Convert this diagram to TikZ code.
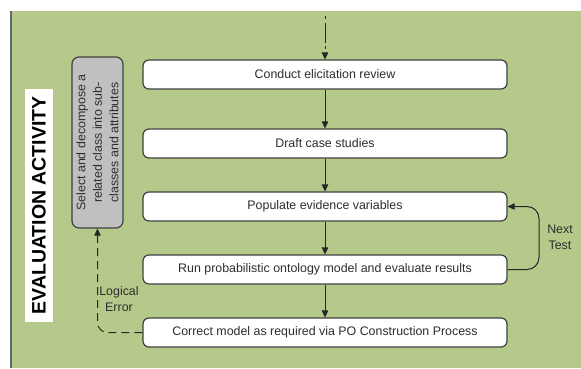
\documentclass[tikz,border=0pt]{standalone}
\usepackage{fontspec}
\setmainfont{Liberation Sans}
\usetikzlibrary{arrows.meta}
\definecolor{bggreen}{RGB}{181,202,138}
\definecolor{edgegray}{RGB}{64,64,64}
\definecolor{txtgray}{RGB}{45,45,45}
\definecolor{boxgray}{RGB}{192,192,192}
\tikzset{
  stepbox/.style={draw=edgegray, line width=1.2pt, fill=white, rounded corners=6pt,
    minimum width=364pt, minimum height=29pt, inner sep=0pt, text=txtgray,
    font=\fontsize{12.4}{15}\selectfont},
  flow/.style={draw=black!85, line width=1pt, -{Triangle[length=7pt,width=6.5pt]}},
  lbl/.style={text=txtgray, font=\fontsize{12.4}{15.5}\selectfont, align=center, inner sep=0pt},
}
\begin{document}
\begin{tikzpicture}[x=1pt,y=-1pt]
\useasboundingbox (0,0) rectangle (581,368);
\fill[bggreen] (10,11) rectangle (581,368);
\draw[edgegray!80, line width=2pt] (11,11) -- (11,368);

\node[fill=white, rotate=90, minimum width=233pt, minimum height=28pt, inner sep=0pt,
  font=\bfseries\fontsize{19.5}{22}\selectfont, text=black] (ev) at (39,205.5) {EVALUATION ACTIVITY};

\node[draw=edgegray, line width=1.2pt, fill=boxgray, rounded corners=7pt, rotate=90,
  minimum width=171pt, minimum height=51pt, inner sep=0pt, align=center, text=txtgray,
  font=\fontsize{12.4}{16.5}\selectfont] (sel) at (97.5,142.5)
  {Select and decompose a\\related class into sub-\\classes and attributes};

\node[stepbox] (b1) at (325,74.5) {Conduct elicitation review};
\node[stepbox] (b2) at (325,143.5) {Draft case studies};
\node[stepbox] (b3) at (325,206.5) {Populate evidence variables};
\node[stepbox] (b4) at (325,269.5) {Run probabilistic ontology model and evaluate results};
\node[stepbox] (b5) at (325,332.5) {Correct model as required via PO Construction Process};

\coordinate (start) at (325,16);
\draw[flow, dash pattern=on 3pt off 4pt on 20pt off 3pt] (start) -- (b1.north);
\draw[flow] (b1) -- (b2);
\draw[flow] (b2) -- (b3);
\draw[flow] (b3) -- (b4);
\draw[flow] (b4) -- (b5);

\draw[flow, rounded corners=12pt] (b4.east) -- (539,269.5) -- (539,206.5) -- (b3.east);
\node[lbl] (nt) at (560,237.5) {Next\\Test};

\draw[flow, dash pattern=on 8pt off 5pt, rounded corners=10pt] (b5.west) -- (97.5,332.5) -- (sel.west);
\node[lbl] (le) at (119,299) {Logical\\Error};
\end{tikzpicture}
\end{document}
